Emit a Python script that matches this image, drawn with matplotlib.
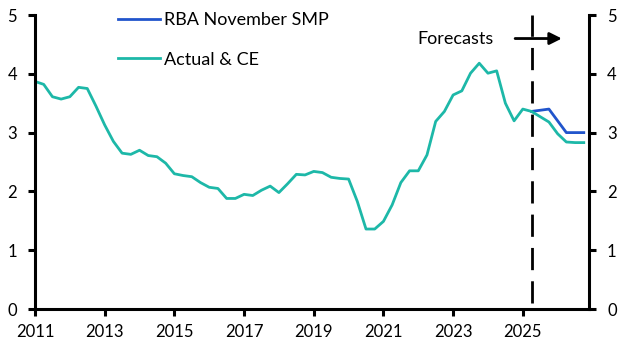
import numpy as np
import matplotlib.pyplot as plt
from matplotlib.lines import Line2D

plt.rcParams['font.family'] = ['Lato', 'DejaVu Sans']

# quarterly data, 2011 Q1 onwards
start_year = 2011
actual = [3.87, 3.82, 3.61, 3.57,
          3.61, 3.77, 3.75, 3.45,
          3.13, 2.85, 2.65, 2.63,
          2.70, 2.61, 2.59, 2.48,
          2.30, 2.27, 2.25, 2.15,
          2.07, 2.05, 1.88, 1.88,
          1.95, 1.93, 2.02, 2.09,
          1.98, 2.13, 2.29, 2.28,
          2.34, 2.32, 2.24, 2.22,
          2.21, 1.83, 1.36, 1.36,
          1.49, 1.77, 2.15, 2.35,
          2.35, 2.62, 3.19, 3.36,
          3.64, 3.71, 4.01, 4.18,
          4.01, 4.05, 3.50, 3.20,
          3.40, 3.36]
ce_forecast = [3.27, 3.18, 2.98, 2.84, 2.83, 2.83]
rba_forecast = [3.36, 3.38, 3.40, 3.20, 3.00, 3.00, 3.00]
forecast_start = 2025.25

yticks = [0, 1, 2, 3, 4, 5]
xticks = [2011, 2013, 2015, 2017, 2019, 2021, 2023, 2025]

teal = '#1db8a8'
blue = '#2155cc'

ce = actual + ce_forecast
x_ce = start_year + np.arange(len(ce)) / 4
x_rba = forecast_start + np.arange(len(rba_forecast)) / 4

fig = plt.figure(figsize=(6.27, 3.53), dpi=100)
ax = fig.add_axes([35 / 627, 1 - 309 / 353, 554 / 627, 294 / 353])

ax.plot(x_rba, rba_forecast, color=blue, lw=2)
ax.plot(x_ce, ce, color=teal, lw=2)

ax.axvline(forecast_start, ymin=0.02, ymax=1, color='black', lw=2, dashes=(8, 4))

ax.set_xlim(2011, 2026.9)
ax.set_ylim(0, 5)
ax.set_xticks(xticks)
ax.set_xticklabels([str(t) for t in xticks])
ax.set_yticks(yticks)

for side in ['left', 'right', 'bottom']:
    ax.spines[side].set_linewidth(2.2)
ax.spines['top'].set_visible(False)
ax.tick_params(axis='both', direction='out', length=5, width=2.2, labelsize=12)
ax.tick_params(axis='y', right=True, labelright=True, pad=8)
ax.tick_params(axis='x', pad=6)

ax.text(2024.17, 4.6, 'Forecasts', ha='right', va='center', fontsize=13)
ax.annotate('', xy=(2026.2, 4.6), xytext=(2024.7, 4.6),
            arrowprops=dict(arrowstyle='-|>', color='black', lw=2,
                            mutation_scale=18))

handles = [Line2D([], [], color=blue, lw=2), Line2D([], [], color=teal, lw=2)]
ax.legend(handles, ['RBA November SMP', 'Actual & CE'], loc='upper left',
          bbox_to_anchor=(0.1206, 1.0656), frameon=False, fontsize=13,
          handlelength=2.33, handletextpad=0.22, labelspacing=1.31)

fig.savefig('out.png', dpi=100)
